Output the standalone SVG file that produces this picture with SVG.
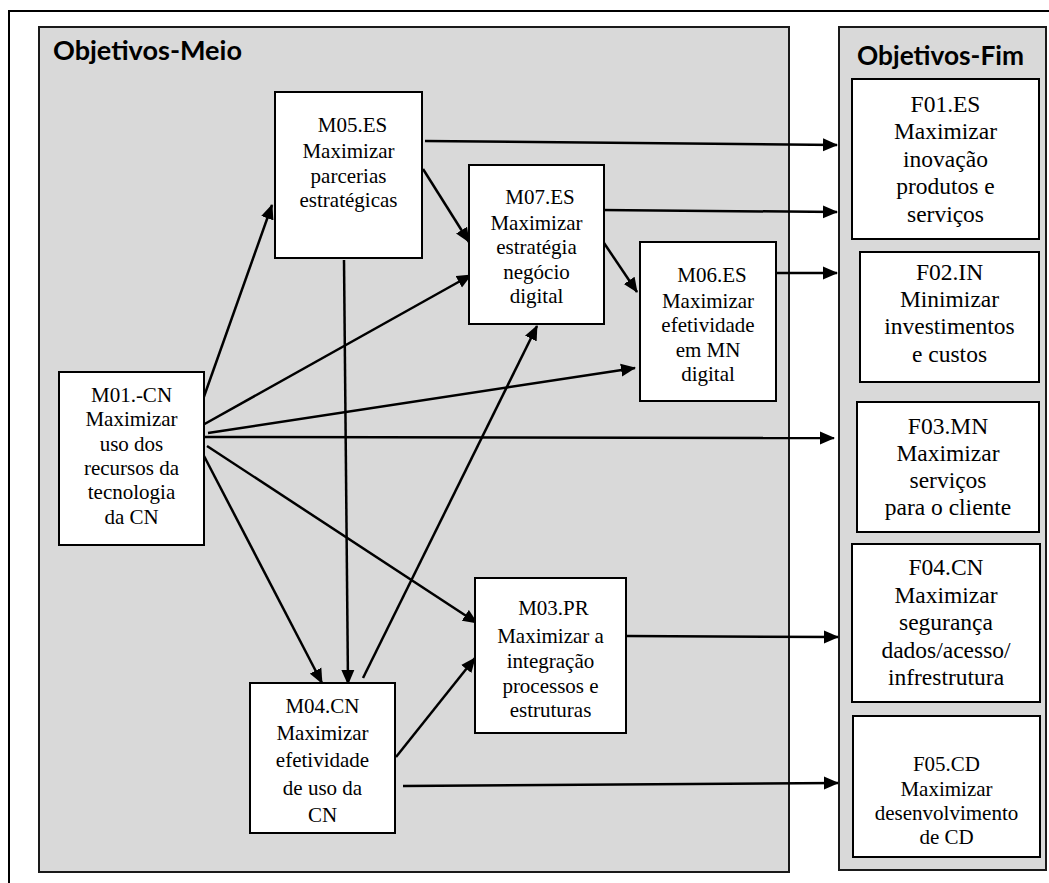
<svg xmlns="http://www.w3.org/2000/svg" width="1049" height="883" viewBox="0 0 1049 883">
  <style>
    .frame { fill: #ffffff; stroke: #000000; stroke-width: 2; }
    .panel { fill: #d9d9d9; stroke: #1a1a1a; stroke-width: 2; }
    .box { fill: #ffffff; stroke: #000000; stroke-width: 2; }
    .title { font-family: Lato, "Open Sans", "Liberation Sans", sans-serif; font-weight: bold; font-size: 26px; fill: #000000; }
    .lbl { font-family: "Liberation Serif", "Times New Roman", serif; font-size: 21px; fill: #000000; text-anchor: middle; }
    .lbl-f { font-family: "Liberation Serif", "Times New Roman", serif; font-size: 23.5px; fill: #000000; text-anchor: middle; }
    .edge { stroke: #000000; stroke-width: 2.5; fill: none; marker-end: url(#arrow); }
  </style>
  <defs>
    <marker id="arrow" markerUnits="userSpaceOnUse" markerWidth="16" markerHeight="14" refX="14" refY="7" orient="auto">
      <path d="M0,0.5 L15,7 L0,13.5 z" fill="#000000"/>
    </marker>
  </defs>

  <rect width="1049" height="883" fill="#ffffff"/>
  <!-- page frame -->
  <rect class="frame" x="9" y="11" width="1060" height="890"/>

  <!-- panels -->
  <g id="panel-meio">
    <rect class="panel" x="39" y="27" width="750" height="845"/>
    <text class="title" x="53" y="60" textLength="189" lengthAdjust="spacingAndGlyphs">Objetivos-Meio</text>
  </g>
  <g id="panel-fim">
    <rect class="panel" x="839" y="27" width="207" height="843"/>
    <text class="title" x="857" y="65" textLength="167" lengthAdjust="spacingAndGlyphs">Objetivos-Fim</text>
  </g>

  <!-- connectors -->
  <g id="connectors">
    <line class="edge" x1="201" y1="405" x2="272" y2="205"/>
    <line class="edge" x1="201" y1="426" x2="471" y2="275"/>
    <line class="edge" x1="208" y1="433" x2="635" y2="368"/>
    <line class="edge" x1="201" y1="437" x2="834" y2="438"/>
    <line class="edge" x1="207" y1="446" x2="477" y2="623"/>
    <line class="edge" x1="204" y1="456" x2="322" y2="683"/>
    <line class="edge" x1="344" y1="260" x2="348" y2="684"/>
    <line class="edge" x1="363" y1="678" x2="537" y2="326"/>
    <line class="edge" x1="396" y1="757" x2="475" y2="658"/>
    <line class="edge" x1="403" y1="786" x2="838" y2="783"/>
    <line class="edge" x1="626" y1="636" x2="838" y2="637"/>
    <line class="edge" x1="425" y1="141" x2="837" y2="145"/>
    <line class="edge" x1="423" y1="169" x2="469" y2="242"/>
    <line class="edge" x1="601" y1="210" x2="837" y2="212"/>
    <line class="edge" x1="604" y1="243" x2="637" y2="292"/>
    <line class="edge" x1="776" y1="273" x2="837" y2="273"/>
  </g>

  <!-- middle objectives -->
  <g id="M05">
    <rect class="box" x="275" y="92" width="147" height="166"/>
    <text class="lbl" x="352.5" y="132">M05.ES</text>
    <text class="lbl" x="348.5" y="158">Maximizar</text>
    <text class="lbl" x="348.5" y="183">parcerias</text>
    <text class="lbl" x="348.5" y="207">estratégicas</text>
  </g>
  <g id="M07">
    <rect class="box" x="469" y="165" width="135" height="159"/>
    <text class="lbl" x="540" y="204">M07.ES</text>
    <text class="lbl" x="536.5" y="230">Maximizar</text>
    <text class="lbl" x="536.5" y="254">estratégia</text>
    <text class="lbl" x="536.5" y="279">negócio</text>
    <text class="lbl" x="536.5" y="303">digital</text>
  </g>
  <g id="M06">
    <rect class="box" x="640" y="242" width="136" height="159"/>
    <text class="lbl" x="712" y="282">M06.ES</text>
    <text class="lbl" x="708" y="308">Maximizar</text>
    <text class="lbl" x="708" y="332">efetividade</text>
    <text class="lbl" x="708" y="357">em MN</text>
    <text class="lbl" x="708" y="381">digital</text>
  </g>
  <g id="M01">
    <rect class="box" x="59" y="372" width="145" height="173"/>
    <text class="lbl" x="131.5" y="402">M01.-CN</text>
    <text class="lbl" x="131.5" y="426">Maximizar</text>
    <text class="lbl" x="131.5" y="451">uso dos</text>
    <text class="lbl" x="131.5" y="475">recursos da</text>
    <text class="lbl" x="131.5" y="499">tecnologia</text>
    <text class="lbl" x="131.5" y="524">da CN</text>
  </g>
  <g id="M03">
    <rect class="box" x="475" y="578" width="151" height="155"/>
    <text class="lbl" x="553.5" y="615">M03.PR</text>
    <text class="lbl" x="550.5" y="643">Maximizar a</text>
    <text class="lbl" x="550.5" y="668">integração</text>
    <text class="lbl" x="550.5" y="693">processos e</text>
    <text class="lbl" x="550.5" y="717">estruturas</text>
  </g>
  <g id="M04">
    <rect class="box" x="250" y="683" width="145" height="150"/>
    <text class="lbl" x="322.5" y="713">M04.CN</text>
    <text class="lbl" x="322.5" y="740">Maximizar</text>
    <text class="lbl" x="322.5" y="767">efetividade</text>
    <text class="lbl" x="322.5" y="795">de uso da</text>
    <text class="lbl" x="322.5" y="822">CN</text>
  </g>

  <!-- end objectives -->
  <g id="F01">
    <rect class="box" x="852" y="79" width="187" height="160"/>
    <text class="lbl-f" x="945.5" y="111.5">F01.ES</text>
    <text class="lbl-f" x="945.5" y="139">Maximizar</text>
    <text class="lbl-f" x="945.5" y="166.5">inovação</text>
    <text class="lbl-f" x="945.5" y="194">produtos e</text>
    <text class="lbl-f" x="945.5" y="221.5">serviços</text>
  </g>
  <g id="F02">
    <rect class="box" x="860" y="252" width="179" height="130"/>
    <text class="lbl-f" x="949.5" y="280">F02.IN</text>
    <text class="lbl-f" x="949.5" y="307">Minimizar</text>
    <text class="lbl-f" x="949.5" y="334">investimentos</text>
    <text class="lbl-f" x="949.5" y="362">e custos</text>
  </g>
  <g id="F03">
    <rect class="box" x="857" y="402" width="182" height="130"/>
    <text class="lbl-f" x="948" y="434">F03.MN</text>
    <text class="lbl-f" x="948" y="461">Maximizar</text>
    <text class="lbl-f" x="948" y="488">serviços</text>
    <text class="lbl-f" x="948" y="515">para o cliente</text>
  </g>
  <g id="F04">
    <rect class="box" x="852" y="544" width="188" height="158"/>
    <text class="lbl-f" x="946" y="575">F04.CN</text>
    <text class="lbl-f" x="946" y="603">Maximizar</text>
    <text class="lbl-f" x="946" y="630">segurança</text>
    <text class="lbl-f" x="946" y="658">dados/acesso/</text>
    <text class="lbl-f" x="946" y="685">infrestrutura</text>
  </g>
  <g id="F05">
    <rect class="box" x="853" y="716" width="187" height="141"/>
    <text class="lbl" x="946.5" y="771">F05.CD</text>
    <text class="lbl" x="946.5" y="796">Maximizar</text>
    <text class="lbl" x="946.5" y="820">desenvolvimento</text>
    <text class="lbl" x="946.5" y="844">de CD</text>
  </g>
</svg>
